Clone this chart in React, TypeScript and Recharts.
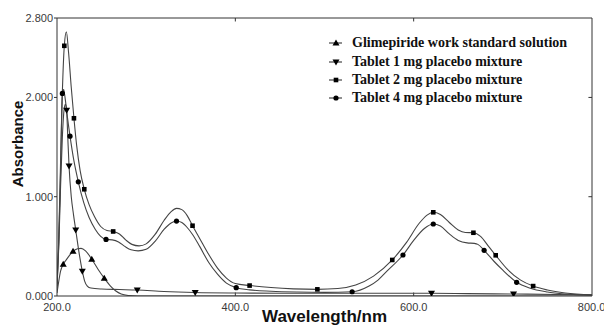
import { ComposedChart, Line, XAxis, YAxis, ReferenceLine } from "recharts";

// wavelength (nm), absorbance
const glimepiride: [number, number][] = [
  [200, 0.03], [202, 0.15], [204, 0.25], [207, 0.32], [210, 0.36], [214, 0.41],
  [218, 0.45], [223, 0.475], [227, 0.48], [232, 0.455], [239, 0.37], [246, 0.27],
  [253, 0.18], [260, 0.1], [266, 0.05], [272, 0.02], [280, 0.005], [290, 0], [800, 0],
];
const tablet1: [number, number][] = [
  [200, 0.08], [202, 0.5], [204, 1.1], [206, 1.6], [208, 1.88], [209.5, 1.93],
  [210.8, 1.87], [212, 1.62], [213.5, 1.31], [216, 1.0], [218.5, 0.82], [221, 0.665],
  [224.5, 0.45], [228.4, 0.25], [231, 0.15], [234, 0.1], [238, 0.08], [250, 0.07],
  [270, 0.065], [290, 0.06], [320, 0.045], [355, 0.035], [400, 0.03], [450, 0.028],
  [500, 0.027], [560, 0.027], [620, 0.027], [660, 0.024], [712, 0.02], [760, 0.015],
  [800, 0.012],
];
const tablet2: [number, number][] = [
  [200, 0.12], [202, 0.6], [204, 1.35], [206, 2.05], [208.2, 2.52], [210.5, 2.66],
  [213, 2.45], [216, 2.1], [219, 1.79], [222, 1.52], [226, 1.26], [230.6, 1.075],
  [236, 0.92], [242, 0.8], [249, 0.7], [256, 0.66], [263, 0.65], [270, 0.625],
  [277, 0.565], [284, 0.52], [292, 0.505], [300, 0.525], [310, 0.62], [320, 0.76],
  [328, 0.85], [334, 0.883], [340, 0.87], [346, 0.81], [352, 0.708], [360, 0.58],
  [370, 0.42], [380, 0.28], [390, 0.18], [400, 0.125], [416, 0.105], [440, 0.085],
  [465, 0.072], [492, 0.067], [515, 0.075], [535, 0.11], [555, 0.2], [576, 0.363],
  [592, 0.54], [606, 0.73], [615, 0.815], [622, 0.843], [630, 0.82], [640, 0.74],
  [650, 0.665], [658, 0.64], [667, 0.637], [675, 0.6], [684, 0.5], [692, 0.41],
  [705, 0.27], [720, 0.16], [734, 0.1], [750, 0.06], [770, 0.03], [800, 0.012],
];
const tablet4: [number, number][] = [
  [200, 0.1], [202, 0.55], [204, 1.25], [206, 2.04], [207.5, 2.08], [209, 2.0],
  [211, 1.85], [214.6, 1.61], [219, 1.36], [223.9, 1.15], [230, 0.94], [236, 0.79],
  [243, 0.67], [249, 0.6], [255, 0.57], [262, 0.565], [269, 0.545], [276, 0.5],
  [283, 0.465], [291, 0.455], [300, 0.47], [310, 0.55], [320, 0.67], [328, 0.735],
  [334, 0.755], [340, 0.74], [346, 0.69], [352, 0.62], [360, 0.5], [370, 0.34],
  [380, 0.22], [390, 0.13], [401, 0.084], [416, 0.062], [440, 0.048], [470, 0.04],
  [500, 0.037], [531, 0.043], [550, 0.1], [560, 0.16], [570, 0.25], [588, 0.413],
  [600, 0.56], [612, 0.68], [622, 0.725], [630, 0.705], [640, 0.625], [650, 0.56],
  [660, 0.535], [668, 0.53], [672, 0.52], [679, 0.46], [690, 0.35], [700, 0.26],
  [715.5, 0.138], [730, 0.08], [750, 0.04], [770, 0.02], [800, 0.008],
];

// wavelengths where a marker is drawn
const glimepirideMarks = [207, 218, 239, 253];
const tablet1Marks = [210.8, 213.5, 221, 228.4, 290, 355, 620, 712];
const tablet2Marks = [208.2, 219, 230.6, 263, 352, 416, 492, 576, 622, 667, 692, 734];
const tablet4Marks = [206, 214.6, 223.9, 255, 334, 401, 531, 588, 622, 679, 715.5];

const xTicks = [200, 400, 600, 800];
const yTicks = [0, 1, 2, 2.8];

type Shape = "up" | "down" | "square" | "circle";

const series: { name: string; points: [number, number][]; marks: number[]; shape: Shape }[] = [
  { name: "Glimepiride work standard solution", points: glimepiride, marks: glimepirideMarks, shape: "up" },
  { name: "Tablet 1 mg placebo mixture", points: tablet1, marks: tablet1Marks, shape: "down" },
  { name: "Tablet 2 mg placebo mixture", points: tablet2, marks: tablet2Marks, shape: "square" },
  { name: "Tablet 4 mg placebo mixture", points: tablet4, marks: tablet4Marks, shape: "circle" },
];

const LINE = "#444";
const AXIS = "#333";
const TICK = { fontFamily: "'Liberation Sans', Arial, sans-serif", fontSize: 11, fill: "#3a3a3a" };

function marker(shape: Shape, cx: number, cy: number, key?: string | number) {
  switch (shape) {
    case "up":
      return <path key={key} d={`M${cx},${cy - 3.5}L${cx + 3.5},${cy + 2.5}L${cx - 3.5},${cy + 2.5}Z`} fill="#000" />;
    case "down":
      return <path key={key} d={`M${cx - 3.5},${cy - 2.5}L${cx + 3.5},${cy - 2.5}L${cx},${cy + 3.5}Z`} fill="#000" />;
    case "square":
      return <rect key={key} x={cx - 2.3} y={cy - 2.3} width={4.6} height={4.6} fill="#000" />;
    default:
      return <circle key={key} cx={cx} cy={cy} r={2.6} fill="#000" />;
  }
}

function LegendBox() {
  return (
    <div
      style={{
        position: "absolute",
        top: 34,
        left: 327,
        fontFamily: "'Liberation Serif', 'Times New Roman', serif",
        fontWeight: "bold",
        fontSize: 14,
        color: "#111",
      }}
    >
      {series.map((s) => (
        <div key={s.name} style={{ display: "flex", alignItems: "center", height: 18.4, whiteSpace: "nowrap" }}>
          <svg width={22} height={10} style={{ marginRight: 3 }}>
            <line x1={2} y1={5} x2={15} y2={5} stroke={LINE} strokeWidth={1.2} />
            {marker(s.shape, 9, 5)}
          </svg>
          <span>{s.name}</span>
        </div>
      ))}
    </div>
  );
}

export default function App() {
  return (
    <div style={{ position: "relative", width: 604, height: 326, background: "#fff" }}>
      <style>{"body{margin:0}"}</style>
      <ComposedChart width={604} height={326} margin={{ top: 18, right: 12, bottom: 0, left: 12 }}>
        <XAxis
          type="number"
          dataKey="x"
          domain={[200, 800]}
          ticks={xTicks}
          tickFormatter={(v: number) => v.toFixed(1)}
          tick={TICK}
          tickLine={false}
          tickMargin={1}
          height={30}
          stroke={AXIS}
          allowDataOverflow
          label={{
            content: () => (
              <text x={324.5} y={321.5} textAnchor="middle" fontFamily="'Liberation Sans', Arial, sans-serif" fontWeight="bold" fontSize={17} fill="#111">
                Wavelength/nm
              </text>
            ),
          }}
        />
        <YAxis
          type="number"
          domain={[0, 2.8]}
          ticks={yTicks}
          tickFormatter={(v: number) => v.toFixed(3)}
          tick={TICK}
          tickSize={3}
          tickMargin={1}
          width={45}
          stroke={AXIS}
          allowDataOverflow
          label={{
            content: () => (
              <text x={17.5} y={144} textAnchor="middle" dominantBaseline="central" transform="rotate(-90, 17.5, 144)" fontFamily="'Liberation Sans', Arial, sans-serif" fontWeight="bold" fontSize={15} fill="#111">
                Absorbance
              </text>
            ),
          }}
        />
        <ReferenceLine y={2.8} stroke={AXIS} />
        <ReferenceLine x={800} stroke={AXIS} />
        {xTicks.slice(1, 3).map((t) => (
          <ReferenceLine key={`b${t}`} segment={[{ x: t, y: 0 }, { x: t, y: 0.035 }]} stroke={AXIS} />
        ))}
        {xTicks.slice(1, 3).map((t) => (
          <ReferenceLine key={`t${t}`} segment={[{ x: t, y: 2.8 }, { x: t, y: 2.765 }]} stroke={AXIS} />
        ))}
        {yTicks.slice(1, 3).map((t) => (
          <ReferenceLine key={`r${t}`} segment={[{ x: 800, y: t }, { x: 796, y: t }]} stroke={AXIS} />
        ))}
        {series.map((s) => (
          <Line
            key={s.name}
            name={s.name}
            data={s.points.map(([x, y]) => ({ x, y }))}
            dataKey="y"
            type="monotone"
            stroke={LINE}
            strokeWidth={1.1}
            isAnimationActive={false}
            dot={(p: any) =>
              s.marks.includes(p.payload.x) ? marker(s.shape, p.cx, p.cy, p.index) : <g key={p.index} />
            }
            activeDot={false}
          />
        ))}
      </ComposedChart>
      <LegendBox />
    </div>
  );
}
